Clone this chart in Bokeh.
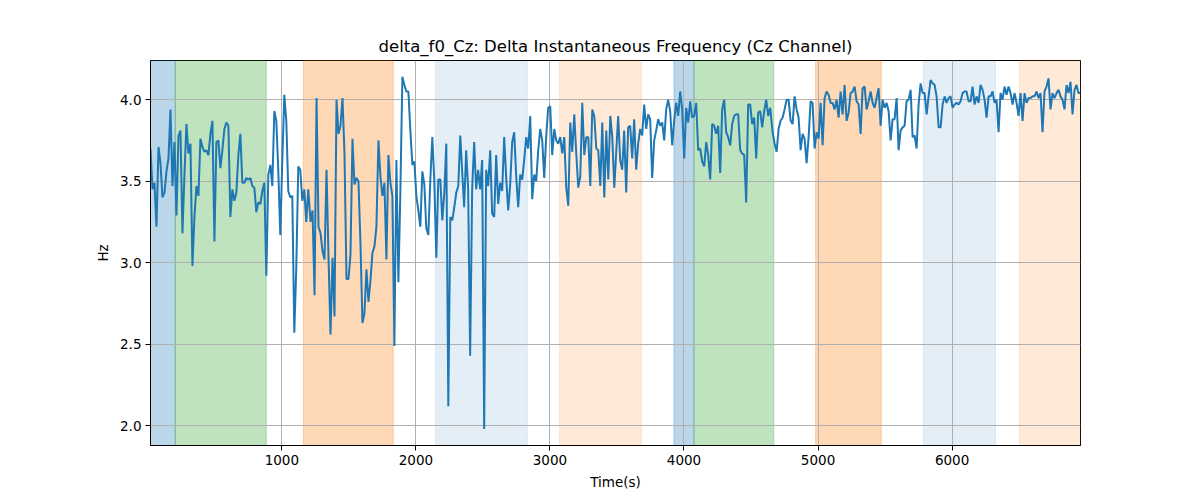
import numpy as np
from bokeh.plotting import figure
from bokeh.models import BoxAnnotation, Range1d, FixedTicker, NumeralTickFormatter, ColumnDataSource
from bokeh.embed import file_html
from bokeh.resources import INLINE

TITLE = "delta_f0_Cz: Delta Instantaneous Frequency (Cz Channel)"
X_LABEL = "Time(s)"
Y_LABEL = "Hz"

X_TICKS = [1000, 2000, 3000, 4000, 5000, 6000]
Y_TICKS = [2.0, 2.5, 3.0, 3.5, 4.0]

# time span (s) covered by each block of samples
SEG_START = [20, 1214, 2345, 3509, 4661, 5810]
SEG_END = [1197, 2331, 3480, 4643, 5795, 6958]

VALS_1 = [3.70, 3.45, 3.49, 3.22, 3.71, 3.61, 3.40, 3.43, 3.56, 3.64,
          3.94, 3.47, 3.74, 3.29, 3.78, 3.81, 3.18, 3.54, 3.85, 3.67,
          3.73, 2.98, 3.28, 3.47, 3.41, 3.76, 3.71, 3.68, 3.69, 3.66,
          3.79, 3.87, 3.13, 3.74, 3.75, 3.58, 3.69, 3.82, 3.86, 3.84,
          3.28, 3.45, 3.38, 3.43, 3.66, 3.79, 3.49, 3.49, 3.52, 3.51,
          3.52, 3.47, 3.46, 3.31, 3.37, 3.36, 3.44, 3.49, 2.92, 3.54,
          3.60, 3.47, 3.93, 3.87, 3.56, 3.17, 3.63, 4.03, 3.87, 3.44,
          3.40, 3.41, 2.57, 2.97, 3.59, 3.57, 3.38, 3.45, 3.25, 3.45]
VALS_2 = [3.25, 3.32, 2.80, 4.01, 3.22, 3.18, 3.07, 3.02, 3.57, 3.03,
          2.56, 3.03, 2.67, 4.00, 3.79, 3.84, 4.01, 3.67, 2.90, 2.90,
          3.05, 3.76, 3.48, 3.52, 3.50, 3.12, 2.63, 2.69, 2.96, 2.76,
          2.89, 3.06, 3.10, 3.22, 3.75, 3.53, 3.41, 3.49, 3.02, 3.66,
          3.49, 3.41, 2.49, 3.63, 2.88, 3.44, 4.14, 4.09, 4.05, 4.05,
          3.81, 3.60, 3.62, 3.41, 3.32, 3.22, 3.56, 3.48, 3.21, 3.17,
          3.51, 3.77, 3.50, 3.03, 3.51, 3.51, 3.26, 3.43, 3.73, 2.12,
          3.28, 3.26, 3.34, 3.43, 3.47, 3.78]
VALS_3 = [3.56, 3.34, 3.69, 3.45, 2.43, 3.45, 3.74, 3.45, 3.57, 3.45,
          3.63, 1.98, 3.57, 3.47, 3.69, 3.30, 3.28, 3.66, 3.36, 3.49,
          3.44, 3.77, 3.52, 3.32, 3.48, 3.74, 3.80, 3.53, 3.34, 3.54,
          3.51, 3.63, 3.77, 3.70, 3.90, 3.39, 3.54, 3.50, 3.69, 3.82,
          3.75, 3.52, 3.78, 3.95, 3.96, 3.66, 3.82, 3.75, 3.73, 3.77,
          3.67, 3.77, 3.46, 3.35, 3.86, 3.68, 3.91, 3.67, 3.46, 3.53,
          3.98, 3.66, 3.77, 3.77, 3.47, 3.94, 3.90, 3.70, 3.69, 3.47,
          3.86, 3.40, 3.81, 3.51, 3.90, 3.77, 3.46]
VALS_4 = [3.90, 3.63, 3.57, 3.81, 3.43, 3.83, 3.84, 3.64, 3.88, 3.57,
          3.73, 3.82, 3.78, 3.97, 3.82, 3.91, 3.88, 3.52, 3.75, 3.81,
          3.88, 3.84, 3.86, 3.75, 3.94, 4.00, 3.93, 3.72, 3.87, 3.98,
          3.90, 4.05, 3.94, 3.64, 3.95, 3.86, 3.99, 3.89, 3.90, 3.98,
          3.69, 3.70, 3.62, 3.59, 3.74, 3.66, 3.51, 3.85, 3.84, 3.79,
          3.84, 3.55, 3.94, 4.00, 3.80, 3.77, 3.72, 3.85, 3.90, 3.91,
          3.91, 3.69, 3.67, 3.66, 3.37, 3.97, 3.97, 3.85, 3.89, 3.64,
          3.92, 3.93, 3.83, 3.93, 4.00, 3.90, 3.95]
VALS_5 = [3.80, 3.73, 3.68, 3.82, 3.87, 3.89, 3.94, 4.00, 4.00, 3.87,
          3.85, 4.02, 3.94, 3.89, 3.69, 3.79, 3.76, 3.61, 3.77, 3.99,
          3.98, 3.70, 3.80, 3.76, 3.98, 3.72, 4.01, 4.05, 4.03, 3.98,
          3.98, 3.94, 4.00, 3.89, 4.05, 3.91, 4.09, 3.87, 3.92, 4.04,
          4.05, 4.08, 3.99, 3.97, 3.79, 4.07, 4.08, 3.94, 3.99, 4.05,
          3.98, 3.95, 4.01, 4.07, 3.84, 4.00, 3.95, 3.98, 3.93, 3.75,
          3.88, 3.88, 4.01, 3.69, 3.81, 3.83, 3.84, 3.99, 4.00, 4.06,
          3.77, 3.78, 3.70, 3.97, 4.10, 4.04, 4.04]
VALS_6 = [3.91, 4.02, 4.12, 4.10, 4.09, 4.02, 3.83, 3.83, 3.97, 4.02,
          3.98, 4.01, 4.02, 3.95, 3.97, 3.98, 3.97, 3.99, 4.04, 4.05,
          4.05, 3.99, 3.99, 4.08, 3.97, 4.02, 3.98, 4.09, 4.06, 4.00,
          3.89, 4.02, 4.02, 4.05, 3.98, 4.00, 3.80, 4.04, 4.00, 4.08,
          4.03, 4.08, 4.04, 3.97, 4.04, 3.98, 3.90, 4.04, 3.87, 4.04,
          3.98, 4.01, 4.01, 4.02, 4.02, 4.05, 4.01, 4.04, 3.80, 4.05,
          4.08, 4.13, 3.94, 4.04, 4.01, 4.04, 4.06, 4.02, 4.00, 3.94,
          4.09, 4.04, 4.11, 3.91, 4.06, 4.09, 4.04, 4.04]

# shaded intervals (s)
SPAN_START = [20, 205, 1160, 2147, 3072, 3925, 4074, 4982, 5787, 6503]
SPAN_END = [205, 884, 1831, 2831, 3681, 4074, 4670, 5472, 6324, 6958]
SPAN_KIND = ["blue", "green", "orange", "lightblue", "lightorange",
             "blue", "green", "orange", "lightblue", "lightorange"]

KIND_STYLE = {
    "blue": ("#1f77b4", 0.3),
    "green": ("#2ca02c", 0.3),
    "orange": ("#ff7f0e", 0.3),
    "lightblue": ("#1f77b4", 0.12),
    "lightorange": ("#ff7f0e", 0.16),
}

segments = [VALS_1, VALS_2, VALS_3, VALS_4, VALS_5, VALS_6]
times = np.concatenate([np.linspace(a, b, len(v)) for a, b, v in zip(SEG_START, SEG_END, segments)])
values = np.concatenate([np.array(v) for v in segments])

FONT = "DejaVu Sans"

p = figure(width=1200, height=500, output_backend="svg", toolbar_location=None,
           x_range=Range1d(times[0], times[-1]), y_range=Range1d(1.879, 4.240),
           min_border_left=150, min_border_right=120, min_border_top=60, min_border_bottom=55,
           title=TITLE)
p.background_fill_color = "white"
p.border_fill_color = "white"
p.outline_line_color = "black"
p.outline_line_width = 1
p.outline_line_alpha = 1

p.title.align = "center"
p.title.text_font = FONT
p.title.text_font_size = "16.5px"
p.title.text_font_style = "normal"
p.title.text_color = "black"

for s, e, k in zip(SPAN_START, SPAN_END, SPAN_KIND):
    c, a = KIND_STYLE[k]
    box = BoxAnnotation(left=s, right=e, fill_color=c, fill_alpha=a,
                        line_color=c, line_alpha=a, line_width=1, level="image")
    p.add_layout(box)

src = ColumnDataSource(dict(t=times, v=values))
p.line("t", "v", source=src, line_color="#1f77b4", line_width=2)

p.xaxis.ticker = FixedTicker(ticks=X_TICKS)
p.yaxis.ticker = FixedTicker(ticks=Y_TICKS)
p.yaxis.formatter = NumeralTickFormatter(format="0.0")
p.xaxis.axis_label = X_LABEL
p.yaxis.axis_label = Y_LABEL

for ax in (p.xaxis, p.yaxis):
    ax.axis_label_text_font = FONT
    ax.axis_label_text_font_size = "13.5px"
    ax.axis_label_text_font_style = "normal"
    ax.axis_label_text_color = "black"
    ax.major_label_text_font = FONT
    ax.major_label_text_font_size = "13.5px"
    ax.major_label_text_color = "black"
    ax.axis_line_color = "black"
    ax.major_tick_line_color = "black"
    ax.major_tick_out = 5
    ax.major_tick_in = 0
    ax.minor_tick_line_color = None
    ax.major_label_standoff = 4
p.xaxis.axis_label_standoff = 6
p.yaxis.axis_label_standoff = 6

p.grid.grid_line_color = "#b0b0b0"
p.grid.grid_line_width = 1
p.xgrid.ticker = FixedTicker(ticks=X_TICKS)
p.ygrid.ticker = FixedTicker(ticks=Y_TICKS)

open("out.html", "w").write(file_html(p, INLINE))
